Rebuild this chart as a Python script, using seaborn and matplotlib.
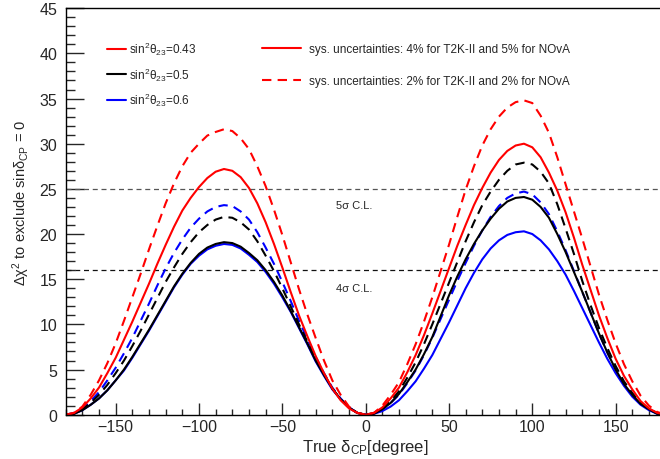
"""
Delta chi^2 to exclude sin(delta_CP) = 0 vs true delta_CP,
for three sin^2(theta_23) values and two systematics scenarios.
"""

import matplotlib
matplotlib.use('Agg')
import matplotlib.pyplot as plt
from matplotlib.lines import Line2D
from matplotlib.ticker import MultipleLocator
import pandas as pd
import seaborn as sns

# True delta_CP grid [degree], 5 degree steps
delta = [-180, -175, -170, -165, -160, -155, -150, -145, -140, -135,
         -130, -125, -120, -115, -110, -105, -100, -95, -90, -85,
         -80, -75, -70, -65, -60, -55, -50, -45, -40, -35,
         -30, -25, -20, -15, -10, -5, 0,
         5, 10, 15, 20, 25, 30, 35, 40, 45, 50,
         55, 60, 65, 70, 75, 80, 85, 90, 95, 100,
         105, 110, 115, 120, 125, 130, 135, 140, 145, 150,
         155, 160, 165, 170, 175, 180]

# sin^2(theta23) = 0.43, sys. 4% / 5%
chi2_043_sys45 = [0, 0.2, 0.8, 1.8, 3.0, 4.6, 6.3, 8.3, 10.3, 12.4,
                  14.5, 16.7, 18.8, 20.8, 22.6, 24.0, 25.2, 26.2, 26.9, 27.2,
                  27.0, 26.3, 25.1, 23.4, 21.3, 18.9, 16.3, 13.6, 11.0, 8.7,
                  6.5, 4.6, 2.9, 1.6, 0.7, 0.2, 0,
                  0.2, 0.8, 1.8, 3.0, 4.7, 6.6, 8.8, 11.2, 13.7, 16.2,
                  18.7, 21.0, 23.2, 25.1, 26.8, 28.2, 29.2, 29.8, 30.0, 29.6,
                  28.5, 26.8, 24.8, 22.4, 19.6, 16.6, 13.8, 11.0, 8.5, 6.2,
                  4.3, 2.8, 1.5, 0.7, 0.2, 0]
# sin^2(theta23) = 0.43, sys. 2% / 2%
chi2_043_sys22 = [0, 0.2, 0.9, 2.2, 3.8, 5.7, 7.9, 10.4, 13.0, 15.6,
                  18.3, 20.9, 23.4, 25.6, 27.5, 29.0, 30.0, 30.9, 31.3, 31.6,
                  31.4, 30.6, 29.4, 27.5, 25.3, 22.7, 19.9, 16.9, 13.9, 11.1,
                  8.5, 6.0, 3.8, 2.2, 0.9, 0.2, 0,
                  0.2, 1.0, 2.2, 3.6, 5.6, 7.8, 10.3, 13.0, 15.9, 18.8,
                  21.9, 24.9, 27.5, 29.8, 31.6, 33.0, 34.0, 34.6, 34.8, 34.5,
                  33.1, 31.2, 28.5, 25.5, 22.5, 19.5, 16.4, 13.3, 10.5, 7.9,
                  5.6, 3.7, 2.1, 1.0, 0.3, 0]

# sin^2(theta23) = 0.5, sys. 4% / 5%
chi2_05_sys45 = [0, 0.1, 0.5, 1.1, 1.8, 2.7, 3.8, 5.0, 6.4, 7.9,
                 9.4, 11.0, 12.6, 14.2, 15.6, 16.8, 17.8, 18.5, 18.9, 19.1,
                 19.0, 18.6, 17.9, 17.1, 16.0, 14.7, 13.2, 11.5, 9.7, 7.9,
                 6.0, 4.4, 2.9, 1.7, 0.8, 0.2, 0,
                 0.1, 0.6, 1.3, 2.3, 3.6, 5.0, 6.7, 8.6, 10.9, 13.2,
                 15.3, 17.2, 18.9, 20.4, 21.7, 22.8, 23.6, 24.0, 24.1, 23.8,
                 23.0, 21.8, 20.0, 18.0, 15.8, 13.6, 11.3, 9.0, 6.9, 5.0,
                 3.4, 2.2, 1.2, 0.6, 0.1, 0]
# sin^2(theta23) = 0.5, sys. 2% / 2%
chi2_05_sys22 = [0, 0.1, 0.6, 1.3, 2.2, 3.3, 4.6, 6.0, 7.6, 9.3,
                 11.1, 12.9, 14.7, 16.3, 17.8, 19.1, 20.2, 21.0, 21.6, 21.9,
                 21.8, 21.3, 20.5, 19.2, 17.6, 15.9, 14.0, 12.0, 10.0, 8.1,
                 6.2, 4.5, 2.9, 1.7, 0.8, 0.2, 0,
                 0.2, 0.7, 1.5, 2.6, 4.1, 5.8, 7.8, 10.0, 12.3, 14.6,
                 16.9, 19.2, 21.3, 23.2, 24.7, 26.0, 27.0, 27.7, 27.9, 27.7,
                 26.9, 25.6, 23.3, 20.6, 17.8, 14.8, 12.1, 9.6, 7.4, 5.4,
                 3.7, 2.4, 1.3, 0.6, 0.2, 0]

# sin^2(theta23) = 0.6, sys. 4% / 5%
chi2_06_sys45 = [0, 0.1, 0.5, 1.1, 1.8, 2.7, 3.8, 4.9, 6.3, 7.8,
                 9.3, 10.9, 12.5, 14.1, 15.5, 16.7, 17.6, 18.3, 18.7, 18.9,
                 18.8, 18.4, 17.7, 16.9, 15.8, 14.5, 13.0, 11.4, 9.6, 7.8,
                 5.9, 4.3, 2.8, 1.7, 0.8, 0.2, 0,
                 0.1, 0.4, 0.9, 1.6, 2.6, 3.7, 5.1, 6.6, 8.4, 10.2,
                 12.1, 14.0, 15.7, 17.2, 18.4, 19.3, 19.9, 20.2, 20.3, 20.0,
                 19.3, 18.3, 17.0, 15.5, 13.7, 11.8, 9.9, 8.0, 6.2, 4.6,
                 3.2, 2.0, 1.1, 0.5, 0.1, 0]
# sin^2(theta23) = 0.6, sys. 2% / 2%
chi2_06_sys22 = [0, 0.2, 0.7, 1.5, 2.5, 3.8, 5.2, 6.8, 8.5, 10.4,
                 12.3, 14.3, 16.2, 17.9, 19.4, 20.7, 21.7, 22.5, 23.0, 23.2,
                 23.1, 22.5, 21.6, 20.2, 18.5, 16.7, 14.7, 12.6, 10.4, 8.4,
                 6.4, 4.6, 3.0, 1.8, 0.8, 0.2, 0,
                 0.1, 0.6, 1.3, 2.2, 3.5, 4.9, 6.6, 8.5, 10.6, 12.7,
                 14.8, 16.8, 18.7, 20.4, 21.9, 23.1, 24.0, 24.5, 24.7, 24.4,
                 23.5, 22.2, 20.3, 18.2, 15.9, 13.6, 11.3, 9.0, 6.9, 5.0,
                 3.4, 2.2, 1.2, 0.6, 0.1, 0]

theta_levels = ['0.6', '0.5', '0.43']   # draw order: blue, black, red
theta_colors = {'0.43': '#ff0000', '0.5': '#000000', '0.6': '#0000ff'}
sys_levels = ['4/5', '2/2']
sys_labels = ['sys. uncertainties: 4% for T2K-II and 5% for NOvA',
              'sys. uncertainties: 2% for T2K-II and 2% for NOvA']

series = [
    ('0.6', '4/5', chi2_06_sys45), ('0.6', '2/2', chi2_06_sys22),
    ('0.5', '4/5', chi2_05_sys45), ('0.5', '2/2', chi2_05_sys22),
    ('0.43', '4/5', chi2_043_sys45), ('0.43', '2/2', chi2_043_sys22),
]

rows = []
for theta, sys_key, vals in series:
    assert len(vals) == len(delta), (theta, sys_key, len(vals))
    for d, v in zip(delta, vals):
        rows.append({'delta': d, 'chi2': v, 'theta': theta, 'sys': sys_key})
df = pd.DataFrame(rows)

sns.set_style('ticks')
plt.rcParams['font.family'] = ['Liberation Sans', 'DejaVu Sans']
plt.rcParams['mathtext.fontset'] = 'custom'
plt.rcParams['mathtext.rm'] = 'Liberation Sans'
plt.rcParams['mathtext.it'] = 'Liberation Sans:italic'
plt.rcParams['mathtext.default'] = 'regular'

fig = plt.figure(figsize=(6.6, 4.6), dpi=100)
ax = fig.add_axes([0.0995, 0.0963, 0.909, 0.8837])

sns.lineplot(data=df, x='delta', y='chi2', hue='theta', style='sys',
             hue_order=theta_levels, style_order=sys_levels,
             palette=theta_colors, dashes={'4/5': '', '2/2': (4.5, 3)},
             linewidth=1.5, estimator=None, sort=False, legend=False, ax=ax)

# C.L. reference lines
ax.axhline(25, color='#555555', lw=0.9, ls=(0, (4, 3)), zorder=1)
ax.axhline(16, color='#111111', lw=0.9, ls=(0, (4, 3)), zorder=1)
ax.text(-17.5, 23.2, '5σ C.L.', fontsize=8, va='center', ha='left')
ax.text(-17.5, 14.0, '4σ C.L.', fontsize=8, va='center', ha='left')

ax.set_xlim(-180, 180)
ax.set_ylim(0, 45)
ax.xaxis.set_major_locator(MultipleLocator(50))
ax.xaxis.set_minor_locator(MultipleLocator(10))
ax.yaxis.set_major_locator(MultipleLocator(5))
ax.yaxis.set_minor_locator(MultipleLocator(1))

ax.tick_params(axis='x', which='major', direction='in', length=8.5, width=1,
               labelsize=11.5, pad=3, top=False)
ax.tick_params(axis='x', which='minor', direction='in', length=4.3, width=1, top=False)
ax.tick_params(axis='y', which='major', direction='in', length=13, width=1,
               labelsize=11.5, pad=6, right=False)
ax.tick_params(axis='y', which='minor', direction='in', length=6.5, width=1, right=False)
for sp in ax.spines.values():
    sp.set_linewidth(1.0)
    sp.set_color('black')

ax.set_xlabel(r'True $\delta_{CP}$[degree]', fontsize=12)
ax.xaxis.set_label_coords(0.5, -0.054)
ax.xaxis.label.set_va('top')
ax.set_ylabel(r'$\Delta\chi^{2}$ to exclude sin$\delta_{CP}$ = 0', fontsize=10.5)
ax.yaxis.set_label_coords(-0.056, 0.523)

# legends
theta_handles = [Line2D([], [], color=theta_colors[t], lw=1.5) for t in ['0.43', '0.5', '0.6']]
theta_labels = [r'sin$^{2}\theta_{23}$=' + t for t in ['0.43', '0.5', '0.6']]
leg1 = ax.legend(theta_handles, theta_labels, loc='upper left',
                 bbox_to_anchor=(0.069, 0.923), frameon=False, fontsize=8.5,
                 handlelength=1.6, handletextpad=0.25, labelspacing=0.72,
                 borderpad=0, borderaxespad=0)
ax.add_artist(leg1)

sys_handles = [Line2D([], [], color='#ff0000', lw=1.5),
               Line2D([], [], color='#ff0000', lw=1.5, dashes=(4.5, 3))]
ax.legend(sys_handles, sys_labels, loc='upper left',
          bbox_to_anchor=(0.327, 0.915), frameon=False, fontsize=8.5,
          handlelength=3.3, handletextpad=0.7, labelspacing=1.73,
          borderpad=0, borderaxespad=0)

fig.savefig('out.png', dpi=100)
plt.close(fig)
